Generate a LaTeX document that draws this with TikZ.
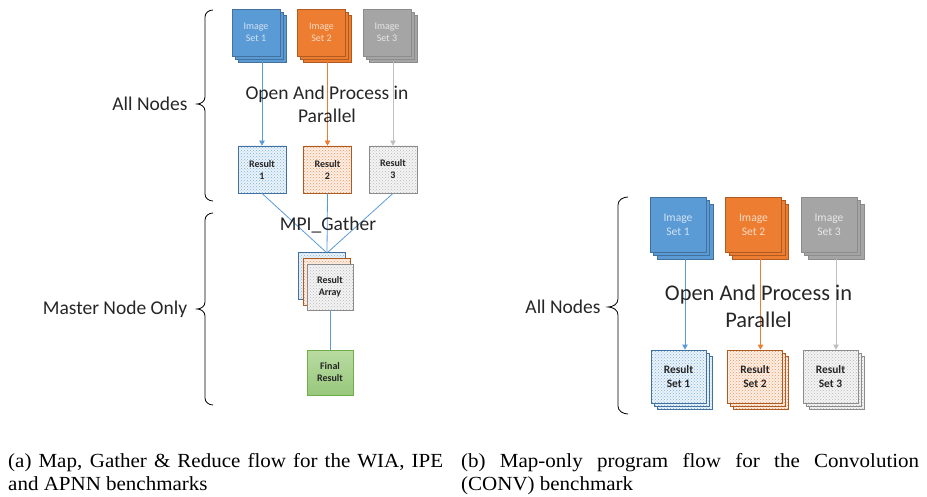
\documentclass[tikz,border=0pt]{standalone}
\usepackage{fontspec}
\setmainfont{Carlito}
\newfontfamily\capfont[FakeStretch=1.05]{Liberation Serif}
\usetikzlibrary{arrows.meta,patterns}
\definecolor{cblue}{HTML}{5B9BD5}
\definecolor{cblueD}{HTML}{41719C}
\definecolor{corange}{HTML}{ED7D31}
\definecolor{corangeD}{HTML}{AE5A21}
\definecolor{cgrey}{HTML}{A5A5A5}
\definecolor{cgreyD}{HTML}{8C8C8C}
\definecolor{cgreyL}{HTML}{BFBFBF}
\definecolor{cgreenT}{HTML}{B9DBA2}
\definecolor{cgreenB}{HTML}{98C87C}
\definecolor{cgreenD}{HTML}{70AD47}
\definecolor{ctext}{HTML}{262626}
\tikzset{
  box/.style={rectangle, line width=0.8pt, inner sep=0pt, align=center},
  smallbox/.style={minimum width=48pt, minimum height=47pt},
  bigbox/.style={minimum width=56pt, minimum height=55pt},
  rbigbox/.style={minimum width=55pt, minimum height=53pt},
  imgbox/.style={box, fill=#1, draw=#1D, text=white!72!#1},
  resbox/.style={box, draw=#1D, preaction={fill=#1!12}, pattern=crosshatch dots, pattern color=#1!80, text=ctext},
  conn/.style={draw=#1, line width=0.8pt, -{Triangle[width=5.5pt,length=5pt]}},
  gline/.style={draw=cblue, line width=0.8pt},
  bracepath/.style={draw=black, line width=0.8pt},
  lbl/.style={text=ctext, font=\fontsize{19.5}{23}\selectfont, align=center, inner sep=0pt},
  capline/.style={anchor=base west, inner sep=0pt, font=\capfont\fontsize{20}{23}\selectfont},
  fsmall/.style={font=\fontsize{10}{11.5}\selectfont},
  fsmallb/.style={font=\bfseries\fontsize{10}{12}\selectfont},
  fbig/.style={font=\fontsize{11.6}{14}\selectfont},
  fbigb/.style={font=\bfseries\fontsize{11.4}{14}\selectfont},
}
\begin{document}
\begin{tikzpicture}[x=1pt,y=-1pt]
\useasboundingbox (0,0) rectangle (927,497);

% ---------------- left diagram ----------------
% image stacks
\node[imgbox=cblue, smallbox] (i1c) at (262,38.5) {};
\node[imgbox=cblue, smallbox] (i1b) at (259,35.5) {};
\node[imgbox=cblue, smallbox, fsmall] (i1) at (256,32.5) {Image\\Set 1};
\node[imgbox=corange, smallbox] (i2c) at (327.5,38.5) {};
\node[imgbox=corange, smallbox] (i2b) at (324.5,35.5) {};
\node[imgbox=corange, smallbox, fsmall] (i2) at (321.5,32.5) {Image\\Set 2};
\node[imgbox=cgrey, smallbox] (i3c) at (393,38.5) {};
\node[imgbox=cgrey, smallbox] (i3b) at (390,35.5) {};
\node[imgbox=cgrey, smallbox, fsmall] (i3) at (387,32.5) {Image\\Set 3};

% results
\node[resbox=cblue, smallbox, fsmallb] (r1) at (262,169.5) {Result\\1};
\node[resbox=corange, smallbox, fsmallb] (r2) at (327.5,169.5) {Result\\2};
\node[resbox=cgrey, smallbox, fsmallb] (r3) at (393,169.5) {Result\\3};

\draw[conn=cblue] (i1c.south) -- (r1.north);
\draw[conn=corange] (i2c.south) -- (r2.north);
\draw[conn=cgreyL] (i3c.south) -- (r3.north);

\node[lbl] (opl) at (327,104) {Open And Process in\\Parallel};

% gather
\coordinate (g) at (327,253);
\draw[gline] (r1.south) -- (g);
\draw[gline] (r2.south) -- (g);
\draw[gline] (r3.south) -- (g);
\node[lbl] (mpi) at (328,225) {MPI\_Gather};

\node[resbox=cblue, minimum width=47pt, minimum height=47pt] (a1) at (322,275.5) {};
\node[resbox=corange, minimum width=47pt, minimum height=47pt] (a2) at (326.5,281.5) {};
\node[resbox=cgrey, minimum width=46pt, minimum height=46pt, fsmallb] (a3) at (330,287) {Result\\Array};

\node[box, draw=cgreenD, top color=cgreenT, bottom color=cgreenB, minimum width=46pt, minimum height=45pt, text=ctext, fsmallb] (fin) at (330,372.5) {Final\\Result};
\draw[gline] (a3.south) -- (fin.north);

% braces
\draw[bracepath] (213,10) to[out=180,in=90] (205,17) -- (205,97) to[out=-90,in=0] (197,104) to[out=0,in=90] (205,111) -- (205,194) to[out=-90,in=180] (213,201);
\draw[bracepath] (213,213) to[out=180,in=90] (205,220) -- (205,302) to[out=-90,in=0] (197,309) to[out=0,in=90] (205,316) -- (205,398) to[out=-90,in=180] (213,405);
\node[lbl] (alll) at (150,103.5) {All Nodes};
\node[lbl] (mno) at (115,309) {Master Node Only};

% ---------------- right diagram ----------------
\node[imgbox=cblue, bigbox] (j1c) at (685,231.5) {};
\node[imgbox=cblue, bigbox] (j1b) at (681.5,228) {};
\node[imgbox=cblue, bigbox, fbig] (j1) at (678,224.5) {Image\\Set 1};
\node[imgbox=corange, bigbox] (j2c) at (760.5,231.5) {};
\node[imgbox=corange, bigbox] (j2b) at (757,228) {};
\node[imgbox=corange, bigbox, fbig] (j2) at (753.5,224.5) {Image\\Set 2};
\node[imgbox=cgrey, bigbox] (j3c) at (836,231.5) {};
\node[imgbox=cgrey, bigbox] (j3b) at (832.5,228) {};
\node[imgbox=cgrey, bigbox, fbig] (j3) at (829,224.5) {Image\\Set 3};

\node[resbox=cblue, rbigbox] (s1c) at (684.5,382.5) {};
\node[resbox=cblue, rbigbox] (s1b) at (681.5,379.5) {};
\node[resbox=cblue, rbigbox, fbigb] (s1) at (678.5,376.5) {Result\\Set 1};
\node[resbox=corange, rbigbox] (s2c) at (761,382.5) {};
\node[resbox=corange, rbigbox] (s2b) at (758,379.5) {};
\node[resbox=corange, rbigbox, fbigb] (s2) at (755,376.5) {Result\\Set 2};
\node[resbox=cgrey, rbigbox] (s3c) at (836.5,382.5) {};
\node[resbox=cgrey, rbigbox] (s3b) at (833.5,379.5) {};
\node[resbox=cgrey, rbigbox, fbigb] (s3) at (830.5,376.5) {Result\\Set 3};

\draw[conn=cblue] (j1c.south) -- (j1c.south |- s1.north);
\draw[conn=corange] (j2c.south) -- (j2c.south |- s2.north);
\draw[conn=cgreyL] (j3c.south) -- (j3c.south |- s3.north);

\node[lbl, font=\fontsize{22.4}{27}\selectfont] (opr) at (758.5,306) {Open And Process in\\Parallel};

\draw[bracepath] (628,197) to[out=180,in=90] (618,205) -- (618,299) to[out=-90,in=0] (608,307) to[out=0,in=90] (618,315) -- (618,406) to[out=-90,in=180] (628,414);
\node[lbl] (allr) at (563,307) {All Nodes};

% ---------------- captions ----------------
\node[capline] (ca1) at (8,467) {\makebox[435pt][s]{(a) Map, Gather \& Reduce flow for the WIA, IPE}};
\node[capline] (ca2) at (8,490) {and APNN benchmarks};
\node[capline] (cb1) at (461,467) {\makebox[458pt][s]{(b) Map-only program flow for the Convolution}};
\node[capline] (cb2) at (461,490) {(CONV) benchmark};
\end{tikzpicture}
\end{document}
